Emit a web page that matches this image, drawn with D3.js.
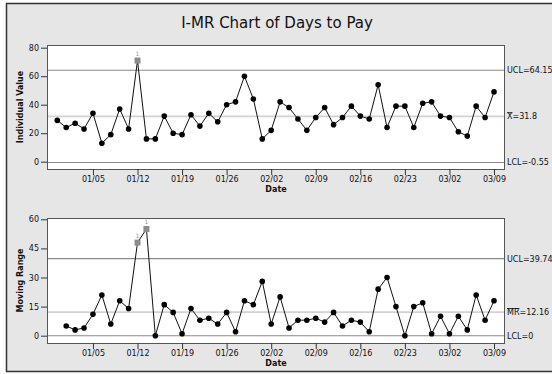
<!DOCTYPE html>
<html>
<head>
<meta charset="utf-8">
<script src="https://cdn.jsdelivr.net/npm/d3@7"></script>
<style>
  html, body { margin: 0; padding: 0; background: #fff; }
  svg { display: block; font-family: "DejaVu Sans", Verdana, sans-serif; }
</style>
</head>
<body>
<svg id="chart" width="552" height="374"></svg>
<script>
// Days to pay, one observation per business day
const daysToPay = [29, 24, 27, 23, 34, 13, 19, 37, 23, 71,
                   16, 16, 32, 20, 19, 33, 25, 34, 28, 40,
                   42, 60, 44, 16, 22, 42, 38, 30, 22, 31,
                   38, 26, 31, 39, 32, 30, 54, 24, 39, 39,
                   24, 41, 42, 32, 31, 21, 18, 39, 31, 49];

// Moving ranges, starting at observation 2
const movingRange = [5, 3, 4, 11, 21, 6, 18, 14, 48,
                     55, 0, 16, 12, 1, 14, 8, 9, 6, 12,
                     2, 18, 16, 28, 6, 20, 4, 8, 8, 9,
                     7, 12, 5, 8, 7, 2, 24, 30, 15, 0,
                     15, 17, 1, 10, 1, 10, 3, 21, 8, 18];

// Observation numbers carrying a date stamp, and their labels
const dateTickIndex = [5, 10, 15, 20, 25, 30, 35, 40, 45, 50];
const dateTickLabels = ["01/05", "01/12", "01/19", "01/26", "02/02",
                        "02/09", "02/16", "02/23", "03/02", "03/09"];

// Control limits
const iLimitValues = [64.15, 31.8, -0.55];
const iLimitNames = ["UCL", "X", "LCL"];
const iLimitText = ["=64.15", "=31.8", "=-0.55"];
const mrLimitValues = [39.74, 12.16, 0];
const mrLimitNames = ["UCL", "MR", "LCL"];
const mrLimitText = ["=39.74", "=12.16", "=0"];

// Observations failing test 1
const iFlagged = [10];
const mrFlagged = [10, 11];

const iTicks = [0, 20, 40, 60, 80];
const mrTicks = [0, 15, 30, 45, 60];

const svg = d3.select("#chart");

// outer frame
svg.append("rect").attr("x", 6.5).attr("y", 3.5).attr("width", 600).attr("height", 368)
  .attr("fill", "#e6e6e6").attr("stroke", "#333").attr("stroke-width", 1.5);

svg.append("text").attr("x", 277).attr("y", 28).attr("text-anchor", "middle")
  .attr("font-size", 15).attr("fill", "#111").text("I-MR Chart of Days to Pay");

const x = d3.scaleLinear().domain([1, 50]).range([57.3, 494]);
const boxLeft = 47, boxRight = 504;

function panel(opts) {
  const { top, bottom, y, ticks, yLabel, series, flagged, limVals, limNames, limText } = opts;
  const g = svg.append("g");

  g.append("rect").attr("x", boxLeft + 0.5).attr("y", top + 0.5)
    .attr("width", boxRight - boxLeft).attr("height", bottom - top)
    .attr("fill", "#fff").attr("stroke", "#555").attr("stroke-width", 1);

  // limit lines: centre line pale, UCL/LCL darker
  limVals.forEach((v, i) => {
    g.append("line").attr("x1", boxLeft + 1).attr("x2", boxRight)
      .attr("y1", y(v)).attr("y2", y(v))
      .attr("stroke", i === 1 ? "#d2d2d2" : "#8a8a8a")
      .attr("stroke-width", i === 1 ? 1.6 : 1.1);
    const t = g.append("text").attr("x", 507).attr("y", y(v) + 3)
      .attr("font-size", 8).attr("fill", "#111");
    t.append("tspan").attr("text-decoration", i === 1 ? "overline" : null).text(limNames[i]);
    t.append("tspan").text(limText[i]);
  });

  // y axis
  const ya = g.append("g").attr("transform", `translate(${boxLeft},0)`)
    .call(d3.axisLeft(y).tickValues(ticks).tickSize(6).tickPadding(2));
  ya.select(".domain").remove();
  ya.selectAll("line").attr("stroke", "#333");
  ya.selectAll("text").attr("font-size", 8).attr("fill", "#111")
    .attr("font-family", "DejaVu Sans, sans-serif");

  // x axis
  const xa = g.append("g").attr("transform", `translate(0,${bottom})`)
    .call(d3.axisBottom(x).tickValues(dateTickIndex)
      .tickFormat((d, i) => dateTickLabels[i]).tickSize(6).tickPadding(1));
  xa.select(".domain").remove();
  xa.selectAll("line").attr("stroke", "#333");
  xa.selectAll("text").attr("font-size", 8).attr("fill", "#111")
    .attr("font-family", "DejaVu Sans, sans-serif");

  g.append("text").attr("x", 276).attr("y", bottom + 23).attr("text-anchor", "middle")
    .attr("font-size", 8).attr("font-weight", "bold").attr("fill", "#111").text("Date");

  g.append("text").attr("transform", `translate(23,${(top + bottom) / 2}) rotate(-90)`)
    .attr("text-anchor", "middle").attr("font-size", 8).attr("font-weight", "bold")
    .attr("fill", "#111").text(yLabel);

  const line = d3.line().x(d => x(d.i)).y(d => y(d.v));
  g.append("path").datum(series).attr("d", line)
    .attr("fill", "none").attr("stroke", "#111").attr("stroke-width", 1);

  const normal = series.filter(d => !flagged.includes(d.i));
  const bad = series.filter(d => flagged.includes(d.i));
  g.selectAll(".pt").data(normal).join("circle")
    .attr("cx", d => x(d.i)).attr("cy", d => y(d.v)).attr("r", 2.8).attr("fill", "#000");
  g.selectAll(".sq").data(bad).join("rect")
    .attr("x", d => x(d.i) - 3).attr("y", d => y(d.v) - 3)
    .attr("width", 6).attr("height", 6).attr("fill", "#8c8c8c");
  g.selectAll(".flag").data(bad).join("text")
    .attr("x", d => x(d.i)).attr("y", d => y(d.v) - 5).attr("text-anchor", "middle")
    .attr("font-size", 6).attr("fill", "#999").text("1");
}

panel({
  top: 45, bottom: 169,
  y: d3.scaleLinear().domain([0, 80]).range([161.7, 47.7]),
  ticks: iTicks, yLabel: "Individual Value",
  series: daysToPay.map((v, k) => ({ i: k + 1, v })),
  flagged: iFlagged, limVals: iLimitValues, limNames: iLimitNames, limText: iLimitText
});

panel({
  top: 218, bottom: 343,
  y: d3.scaleLinear().domain([0, 60]).range([335.7, 219.3]),
  ticks: mrTicks, yLabel: "Moving Range",
  series: movingRange.map((v, k) => ({ i: k + 2, v })),
  flagged: mrFlagged, limVals: mrLimitValues, limNames: mrLimitNames, limText: mrLimitText
});
</script>
</body>
</html>
